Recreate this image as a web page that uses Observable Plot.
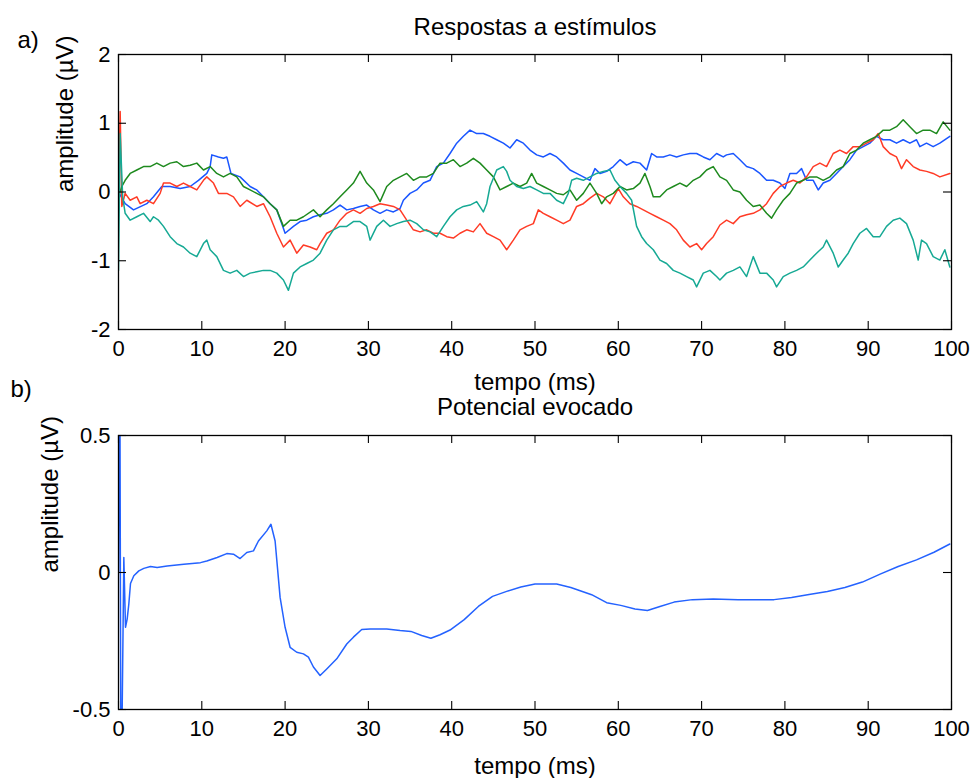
<!DOCTYPE html>
<html><head><meta charset="utf-8">
<script src="https://cdn.jsdelivr.net/npm/d3@7"></script>
<script src="https://cdn.jsdelivr.net/npm/@observablehq/plot@0.6"></script>
<style>
html,body{margin:0;padding:0;background:#fff;}
#wrap{position:relative;width:974px;height:778px;background:#fff;overflow:hidden;}
#wrap svg{position:absolute;left:0;overflow:visible;}
</style></head><body><div id="wrap"></div>
<script>
// ---- Panel a) four single-trial responses (time in ms, amplitude in µV) ----
const tBlue=[0,0.8,1.8,3.4,4.2,5.2,6.2,7.4,8.6,9.6,10.6,11.0,11.2,12.0,12.6,13.0,13.5,14.6,15.8,16.6,17.4,18.2,19.0,19.6,20.0,21.0,21.8,22.6,23.4,24.2,25.0,25.8,26.6,27.4,28.2,29.0,29.8,30.6,31.4,32.2,33.0,33.8,34.2,35.0,35.8,36.6,37.4,38.2,39.0,39.8,40.6,41.4,42.2,43.0,43.8,44.6,45.4,46.2,47.0,47.8,48.6,49.4,50.2,51.0,51.8,52.6,53.4,54.2,55.0,55.8,56.6,57.2,57.8,58.6,59.4,60.2,61.0,61.8,62.6,63.4,64.0,64.6,65.4,66.2,67.0,67.8,68.6,69.4,70.2,71.0,71.8,72.6,73.0,73.8,74.6,75.4,76.2,77.0,77.8,78.6,79.4,80.0,80.6,81.4,82.0,82.6,83.4,84.0,84.6,85.4,86.2,87.0,87.8,88.6,89.4,90.2,91.0,91.8,92.6,93.4,94.2,95.0,95.8,96.2,97.0,97.8,98.6,99.8];
const vBlue=[0.0,-0.17,-0.26,-0.17,-0.07,0.08,0.08,0.05,0.08,0.17,0.27,0.37,0.54,0.51,0.49,0.51,0.27,0.22,0.08,0.03,-0.07,-0.17,-0.26,-0.46,-0.60,-0.50,-0.43,-0.41,-0.36,-0.33,-0.31,-0.26,-0.19,-0.26,-0.24,-0.21,-0.19,-0.26,-0.31,-0.26,-0.29,-0.24,-0.12,-0.02,0.03,0.13,0.17,0.37,0.42,0.56,0.71,0.81,0.90,0.85,0.85,0.81,0.76,0.71,0.64,0.76,0.71,0.61,0.54,0.51,0.56,0.51,0.42,0.32,0.27,0.22,0.17,0.34,0.27,0.30,0.37,0.47,0.39,0.44,0.42,0.32,0.56,0.51,0.51,0.54,0.51,0.54,0.56,0.56,0.51,0.47,0.56,0.51,0.54,0.56,0.47,0.37,0.34,0.27,0.17,0.17,0.13,0.05,0.27,0.27,0.34,0.17,0.17,0.03,0.13,0.17,0.27,0.37,0.47,0.61,0.66,0.71,0.81,0.76,0.76,0.71,0.76,0.71,0.76,0.66,0.71,0.66,0.71,0.81];

const tRed=[0,0.2,0.4,0.8,1.4,2.2,2.6,3.4,4.2,5.0,5.4,6.2,7.0,7.8,8.6,9.4,10.2,10.6,11.4,12.0,13.0,13.8,14.6,15.4,16.6,17.4,18.2,19.0,19.8,20.6,21.4,22.2,23.0,23.8,24.2,25.0,25.8,26.6,27.4,28.2,29.0,29.8,30.6,31.4,32.2,33.0,33.8,34.6,35.4,36.2,37.0,37.8,38.6,39.4,40.2,41.0,41.8,42.6,43.4,44.2,45.0,45.8,46.6,47.4,48.2,49.0,49.8,50.4,51.0,51.8,52.6,53.4,54.2,55.0,55.8,56.6,57.4,58.2,59.0,60.0,60.6,61.4,62.2,63.0,63.8,64.6,65.4,66.2,67.0,67.8,68.6,69.4,70.0,70.6,71.4,72.2,73.0,73.8,74.6,75.4,76.2,77.0,77.8,78.6,79.4,80.2,81.0,81.8,82.6,83.4,84.2,85.0,85.8,86.6,87.4,88.2,89.0,89.8,90.6,91.2,91.8,92.6,93.4,94.0,94.6,95.4,96.2,97.0,97.8,98.6,99.8];
const vRed=[-0.12,1.17,-0.21,-0.02,-0.12,-0.07,-0.17,-0.12,-0.17,-0.02,0.13,0.13,0.08,0.13,0.08,0.03,0.17,0.22,0.13,-0.02,-0.02,-0.07,-0.21,-0.12,-0.21,-0.17,-0.36,-0.60,-0.80,-0.70,-0.89,-0.77,-0.80,-0.84,-0.75,-0.60,-0.55,-0.41,-0.31,-0.26,-0.31,-0.24,-0.21,-0.17,-0.19,-0.21,-0.26,-0.41,-0.55,-0.58,-0.55,-0.60,-0.60,-0.65,-0.67,-0.60,-0.55,-0.58,-0.46,-0.60,-0.65,-0.70,-0.84,-0.70,-0.55,-0.50,-0.46,-0.26,-0.31,-0.36,-0.41,-0.46,-0.41,-0.21,-0.17,-0.09,-0.02,-0.07,-0.17,0.05,-0.07,-0.17,-0.21,-0.26,-0.31,-0.36,-0.41,-0.46,-0.55,-0.70,-0.80,-0.75,-0.84,-0.75,-0.65,-0.48,-0.41,-0.46,-0.36,-0.33,-0.31,-0.26,-0.17,-0.02,0.08,0.13,0.17,0.13,0.22,0.37,0.42,0.37,0.56,0.61,0.56,0.66,0.66,0.71,0.76,0.85,0.66,0.56,0.51,0.34,0.47,0.37,0.32,0.30,0.27,0.22,0.27];

const tGreen=[0,0.4,0.8,1.4,2.2,3.0,3.8,4.6,5.4,6.2,7.0,7.8,8.6,9.4,10.2,11.0,11.8,12.6,13.4,14.2,15.0,15.8,16.6,17.4,18.2,19.0,19.8,20.6,21.4,22.2,23.4,24.2,25.0,25.8,26.6,27.4,28.2,29.0,29.8,30.6,31.4,32.2,33.0,33.8,34.6,35.4,36.2,37.0,37.8,38.6,39.4,40.2,41.0,41.8,42.6,43.4,44.2,45.0,45.8,46.6,47.4,48.2,49.0,49.6,50.2,51.0,51.8,52.6,53.4,54.2,55.0,55.8,56.6,57.4,58.0,58.6,59.4,60.2,61.0,61.8,62.6,63.2,63.8,64.2,65.0,65.8,66.6,67.4,68.2,69.0,69.8,70.6,71.4,72.2,73.0,73.8,74.6,75.4,76.2,77.0,77.8,78.4,79.0,79.8,80.6,81.4,82.2,83.0,83.8,84.6,85.4,86.2,87.0,87.8,88.6,89.4,90.2,91.0,91.8,92.6,93.4,94.2,95.0,95.8,96.6,97.4,98.2,99.0,99.8];
const vGreen=[-0.07,0.08,0.17,0.27,0.32,0.37,0.37,0.42,0.37,0.42,0.44,0.37,0.39,0.42,0.32,0.37,0.27,0.22,0.27,0.22,0.08,0.03,-0.02,-0.07,-0.17,-0.26,-0.50,-0.41,-0.41,-0.36,-0.26,-0.36,-0.26,-0.17,-0.07,0.03,0.13,0.30,0.13,0.03,-0.14,0.08,0.17,0.22,0.27,0.17,0.22,0.22,0.27,0.42,0.42,0.47,0.37,0.42,0.49,0.42,0.32,0.22,0.03,0.08,0.13,0.08,0.13,0.27,0.13,0.08,0.03,-0.02,-0.04,0.03,-0.12,-0.02,0.13,-0.02,-0.17,-0.07,-0.02,0.08,0.03,0.05,0.13,0.27,0.08,-0.07,-0.07,0.03,0.08,0.13,0.08,0.17,0.22,0.32,0.37,0.22,0.17,0.03,0.00,-0.12,-0.21,-0.19,-0.31,-0.38,-0.26,-0.12,-0.02,0.13,0.17,0.22,0.22,0.17,0.22,0.32,0.37,0.56,0.61,0.71,0.76,0.81,0.90,0.90,0.95,1.05,0.95,0.85,0.90,0.90,0.85,1.02,0.90];

const tTeal=[0,0.2,0.5,0.8,1.4,2.2,3.0,3.8,4.2,4.8,5.4,6.2,7.0,7.8,8.6,9.4,10.2,10.6,11.0,11.8,12.6,13.4,14.2,15.0,15.8,16.6,17.4,18.2,19.0,19.8,20.4,21.0,21.8,22.6,23.4,24.2,25.0,25.8,26.6,27.4,28.2,29.0,29.8,30.2,31.0,31.8,32.6,33.4,34.2,35.0,35.8,36.6,37.4,38.2,39.0,39.8,40.6,41.4,42.2,43.0,43.8,44.2,44.6,45.4,46.2,46.6,47.0,47.8,48.6,49.4,50.2,51.0,51.8,52.6,53.4,54.0,54.4,55.0,55.8,56.6,57.4,58.2,59.0,59.6,60.2,61.0,61.6,62.2,62.8,63.4,64.2,65.0,65.8,66.6,67.4,68.2,69.0,69.4,70.2,71.0,71.8,72.2,73.0,73.8,74.6,75.4,76.2,77.0,77.8,78.6,79.0,79.8,80.6,81.4,82.2,83.0,83.8,84.6,85.0,85.8,86.4,87.0,87.6,88.2,89.0,89.8,90.6,91.4,92.2,93.0,93.8,94.6,95.4,96.0,96.4,97.0,97.8,98.6,99.2,99.8];
const vTeal=[-1.14,0.85,-0.07,-0.31,-0.41,-0.36,-0.31,-0.43,-0.36,-0.41,-0.50,-0.65,-0.75,-0.80,-0.89,-0.94,-0.75,-0.70,-0.84,-0.94,-1.14,-1.18,-1.14,-1.23,-1.18,-1.16,-1.14,-1.14,-1.18,-1.28,-1.43,-1.18,-1.09,-1.04,-0.99,-0.89,-0.70,-0.55,-0.50,-0.50,-0.43,-0.43,-0.50,-0.70,-0.50,-0.41,-0.50,-0.46,-0.43,-0.41,-0.46,-0.55,-0.58,-0.65,-0.50,-0.36,-0.26,-0.21,-0.19,-0.14,-0.29,-0.17,0.08,0.32,0.37,0.30,0.17,0.08,0.05,0.08,0.03,-0.02,-0.02,-0.12,-0.17,-0.02,0.17,0.20,0.17,0.22,0.27,0.30,0.32,0.17,0.08,-0.02,-0.12,-0.50,-0.65,-0.75,-0.84,-0.99,-1.04,-1.14,-1.18,-1.23,-1.28,-1.38,-1.18,-1.14,-1.23,-1.28,-1.18,-1.14,-1.09,-1.23,-0.94,-1.18,-1.18,-1.28,-1.38,-1.23,-1.18,-1.14,-1.09,-0.99,-0.89,-0.80,-0.70,-0.89,-1.09,-0.99,-0.89,-0.75,-0.60,-0.53,-0.65,-0.65,-0.50,-0.41,-0.38,-0.46,-0.70,-0.99,-0.70,-0.75,-0.94,-0.99,-0.84,-1.09];

// ---- Panel b) evoked potential ----
const tEvoked=[0,0.15,0.3,0.64,0.84,1.04,1.24,1.44,1.84,2.44,3.04,3.84,4.64,5.84,7.84,9.84,10.6,11.84,13.0,13.8,14.6,15.4,16.2,16.8,17.8,18.3,18.8,19.4,20.0,20.6,21.4,22.2,22.8,23.4,24.2,25.0,26.2,27.4,28.2,29.2,30.2,32.2,33.8,35.1,36.4,37.5,38.6,39.8,41.5,43.2,44.9,46.6,48.3,50.0,52.6,54.3,56.8,58.6,60.3,62.0,63.5,65.0,66.7,68.9,71.4,74.4,78.7,80.8,82.9,85.1,87.2,89.3,91.5,93.6,95.8,97.9,99.8];
const vEvoked=[0.0,0.9,-0.9,0.055,-0.2,-0.17,-0.115,-0.04,-0.012,0.006,0.015,0.022,0.018,0.024,0.030,0.036,0.042,0.055,0.069,0.067,0.051,0.073,0.079,0.115,0.152,0.176,0.115,-0.091,-0.20,-0.273,-0.291,-0.297,-0.309,-0.345,-0.376,-0.352,-0.315,-0.261,-0.236,-0.208,-0.206,-0.206,-0.212,-0.215,-0.23,-0.24,-0.227,-0.21,-0.172,-0.124,-0.087,-0.069,-0.053,-0.042,-0.042,-0.055,-0.081,-0.11,-0.12,-0.133,-0.139,-0.124,-0.108,-0.099,-0.097,-0.099,-0.099,-0.091,-0.08,-0.069,-0.055,-0.035,-0.005,0.022,0.046,0.074,0.104];

const xTicks=[0,10,20,30,40,50,60,70,80,90,100];
const yTicksTop=[-2,-1,0,1,2];
const yTicksBottom=[-0.5,0,0.5];
const titleTop="Respostas a estímulos";
const titleBottom="Potencial evocado";
const xLabel="tempo (ms)";
const yLabel="amplitude (µV)";

const series=[
  {t:tBlue, v:vBlue, color:"#1a56ff"},
  {t:tRed, v:vRed, color:"#ff3b26"},
  {t:tGreen, v:vGreen, color:"#1e8a1e"},
  {t:tTeal, v:vTeal, color:"#16a994"}
];
const rows=(t,v)=>t.map((x,i)=>({t:x, v:v[i]}));

const FONT="'Liberation Sans', Arial, Helvetica, sans-serif";
const W=974, TICK=8;
const baseStyle={fontFamily:FONT, fontSize:"22px", background:"transparent", color:"#000", overflow:"visible"};

function framedTicks(yTicks, fw, fh){
  return [
    Plot.tickX(xTicks,{x:d=>d, insetTop:fh-TICK, stroke:"#000", strokeWidth:1.1}),
    Plot.tickX(xTicks,{x:d=>d, insetBottom:fh-TICK, stroke:"#000", strokeWidth:1.1}),
    Plot.tickY(yTicks,{y:d=>d, insetRight:fw-TICK, stroke:"#000", strokeWidth:1.1}),
    Plot.tickY(yTicks,{y:d=>d, insetLeft:fw-TICK, stroke:"#000", strokeWidth:1.1}),
    Plot.frame({stroke:"#000", strokeWidth:1.3})
  ];
}

// Panel a
const m1={top:54,right:23,bottom:69,left:118}, H1=398;
const fw=W-m1.left-m1.right, fh1=H1-m1.top-m1.bottom;
const p1=Plot.plot({
  width:W, height:H1, marginTop:m1.top, marginRight:m1.right, marginBottom:m1.bottom, marginLeft:m1.left,
  style:baseStyle,
  x:{domain:[0,100], ticks:xTicks, tickSize:0, tickPadding:11, label:null, tickFormat:d=>String(d)},
  y:{domain:[-2,2], ticks:yTicksTop, tickSize:0, tickPadding:8, label:null, tickFormat:d=>String(d)},
  marks:[
    ...series.map(s=>Plot.line(rows(s.t,s.v),{x:"t", y:"v", stroke:s.color, strokeWidth:1.5, clip:true})),
    ...framedTicks(yTicksTop, fw, fh1),
    Plot.text([titleTop],{text:d=>d, frameAnchor:"top", dy:-37, fontSize:24}),
    Plot.text(["a)"],{text:d=>d, frameAnchor:"top-left", textAnchor:"start", dx:-101, dy:-24, fontSize:24}),
    Plot.text([xLabel],{text:d=>d, frameAnchor:"bottom", dy:60, fontSize:24}),
    Plot.text([yLabel],{text:d=>d, frameAnchor:"left", rotate:-90, dx:-53, fontSize:24})
  ]
});
p1.style.top="0px";

// Panel b
const m2={top:37,right:23,bottom:69,left:118}, H2=380;
const fh2=H2-m2.top-m2.bottom;
const p2=Plot.plot({
  width:W, height:H2, marginTop:m2.top, marginRight:m2.right, marginBottom:m2.bottom, marginLeft:m2.left,
  style:baseStyle,
  x:{domain:[0,100], ticks:xTicks, tickSize:0, tickPadding:11, label:null, tickFormat:d=>String(d)},
  y:{domain:[-0.5,0.5], ticks:yTicksBottom, tickSize:0, tickPadding:8, label:null, tickFormat:d=>String(d)},
  marks:[
    Plot.line(rows(tEvoked,vEvoked),{x:"t", y:"v", stroke:"#2462ff", strokeWidth:1.5, clip:true}),
    ...framedTicks(yTicksBottom, fw, fh2),
    Plot.text([titleBottom],{text:d=>d, frameAnchor:"top", dy:-38, fontSize:24}),
    Plot.text(["b)"],{text:d=>d, frameAnchor:"top-left", textAnchor:"start", dx:-108, dy:-56, fontSize:24}),
    Plot.text([xLabel],{text:d=>d, frameAnchor:"bottom", dy:64, fontSize:24}),
    Plot.text([yLabel],{text:d=>d, frameAnchor:"left", rotate:-90, dx:-68, fontSize:24})
  ]
});
p2.style.top="398px";

const wrap=document.getElementById("wrap");
wrap.appendChild(p1);
wrap.appendChild(p2);
</script>
</body></html>
